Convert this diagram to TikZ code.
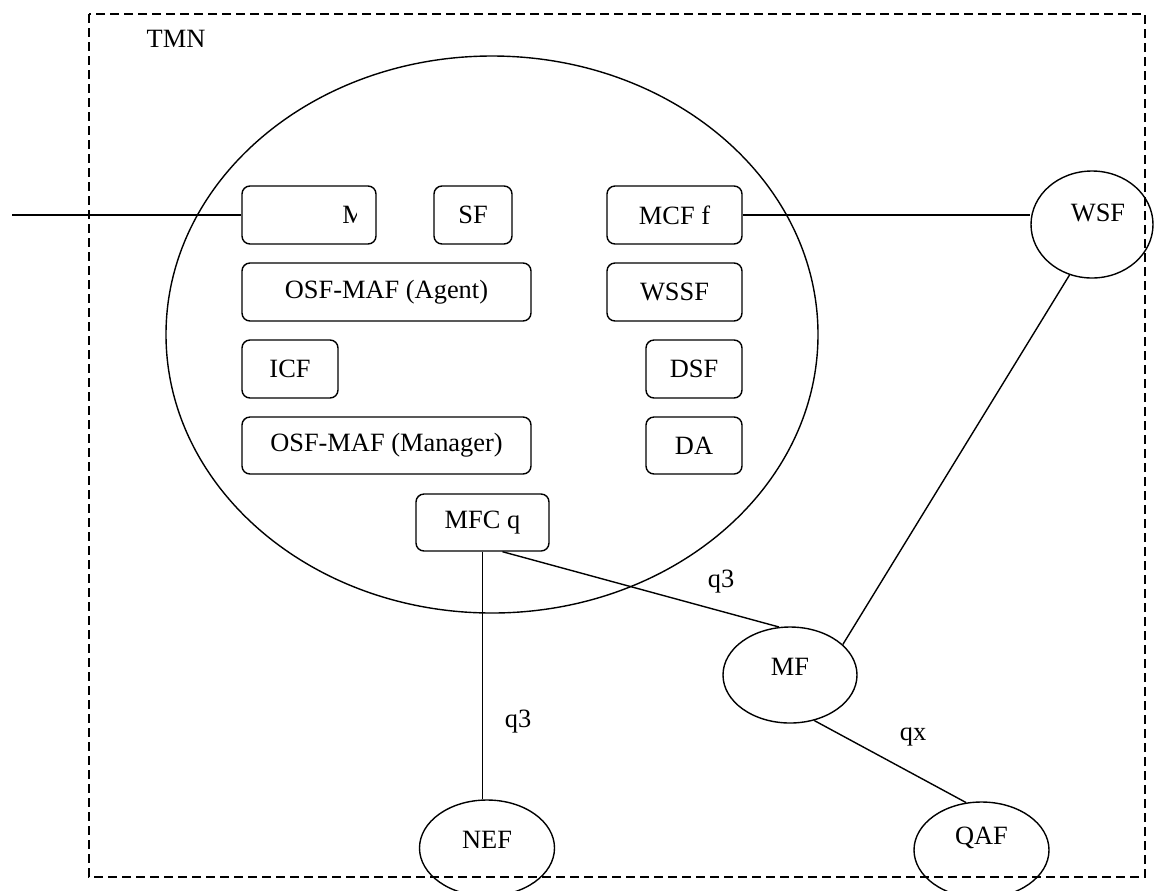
\documentclass[tikz,border=0pt]{standalone}
\usepackage{fontspec}
\setmainfont{Liberation Serif}
\usetikzlibrary{shapes.geometric,calc}
\tikzset{
  every node/.style={font=\fontsize{13.2}{15}\selectfont},
  fbox/.style={draw, rounded corners=4pt, line width=0.7pt, minimum height=29pt, inner sep=0pt},
  ell/.style={draw, ellipse, line width=0.7pt, inner sep=0pt},
  conn/.style={line width=0.7pt},
  frame/.style={line width=0.7pt, dash pattern=on 4.5pt off 2.5pt},
  lbl/.style={inner sep=0pt}
}
\begin{document}
\begin{tikzpicture}[x=0.5pt,y=-0.5pt]
\useasboundingbox (0,0) rectangle (1156,890);
% TMN frame
\draw[frame] (89,14) rectangle (1145,877);
\node[lbl] (tmn) at (176,39) {TMN};
% big ellipse
\node[ell, minimum width=326pt, minimum height=278.5pt] (big) at (492,334.5) {};
% function boxes
\node[fbox, minimum width=67pt] (m) at (309,215) {};
\begin{scope}
  \clip (330,190) rectangle (356,240);
  \node[lbl, anchor=west] (mtext) at (342,215) {M};
\end{scope}
\node[fbox, minimum width=39pt] (sf) at (473,215) {SF};
\node[fbox, minimum width=67.5pt] (mcf) at (674.5,215) {MCF f};
\node[fbox, minimum width=144.5pt] (agent) at (386.5,292) {OSF-MAF (Agent)};
\node[fbox, minimum width=67.5pt] (wssf) at (674.5,292) {WSSF};
\node[fbox, minimum width=48pt] (icf) at (290,369) {ICF};
\node[fbox, minimum width=48pt] (dsf) at (694,369) {DSF};
\node[fbox, minimum width=144.5pt, minimum height=28.5pt] (manager) at (386.5,445.5) {OSF-MAF (Manager)};
\node[fbox, minimum width=48pt, minimum height=28.5pt] (da) at (694,445.5) {DA};
\node[fbox, minimum width=66.5pt, minimum height=28.5pt] (mfc) at (482.5,522.5) {MFC q};
% outer ellipses
\node[ell, minimum width=61pt, minimum height=53.5pt] (wsf) at (1092,224.5) {};
\node[lbl] (wsftext) at (1098,213) {WSF};
\node[ell, minimum width=67pt, minimum height=48pt] (mf) at (790,675) {};
\node[lbl] (mftext) at (790,667) {MF};
\node[ell, minimum width=67.5pt, minimum height=48pt] (nef) at (487,848) {};
\node[lbl] (neftext) at (487,840) {NEF};
\node[ell, minimum width=67.5pt, minimum height=48pt] (qaf) at (981.5,850) {};
\node[lbl] (qaftext) at (981.5,838) {QAF};
% connectors
\coordinate (ext) at (12,215);
\draw[conn] (ext) -- (m.west);
\draw[conn] (mcf.east) -- (mcf.east -| wsf.west);
\draw[conn] (wsf.-114) -- (mf.30);
\draw[conn] (mfc.south) -- (mfc.south |- nef.north);
\draw[conn] ([xshift=10pt]mfc.south) -- (mf.103);
\draw[conn] (mf.-62) -- (qaf.108);
% labels
\node[lbl] (q3a) at (721,582) {q3};
\node[lbl] (q3b) at (518,722) {q3};
\node[lbl] (qx) at (913,737) {qx};
\end{tikzpicture}
\end{document}
